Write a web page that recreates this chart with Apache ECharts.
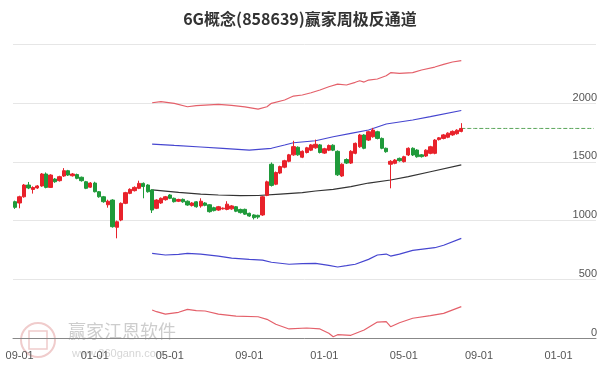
<!DOCTYPE html>
<html><head><meta charset="utf-8">
<script src="https://cdn.jsdelivr.net/npm/echarts@6/dist/echarts.min.js"></script>
<style>html,body{margin:0;padding:0;background:#fff}#c{width:600px;height:371px}</style>
</head><body><div id="c"></div>
<script>
const weeks = [
'2021-08-23','2021-08-30','2021-09-06','2021-09-13','2021-09-20','2021-09-27','2021-10-04','2021-10-11','2021-10-18','2021-10-25',
'2021-11-01','2021-11-08','2021-11-15','2021-11-22','2021-11-29','2021-12-06','2021-12-13','2021-12-20','2021-12-27','2022-01-03',
'2022-01-10','2022-01-17','2022-01-24','2022-01-31','2022-02-07','2022-02-14','2022-02-21','2022-02-28','2022-03-07','2022-03-14',
'2022-03-21','2022-03-28','2022-04-04','2022-04-11','2022-04-18','2022-04-25','2022-05-02','2022-05-09','2022-05-16','2022-05-23',
'2022-05-30','2022-06-06','2022-06-13','2022-06-20','2022-06-27','2022-07-04','2022-07-11','2022-07-18','2022-07-25','2022-08-01',
'2022-08-08','2022-08-15','2022-08-22','2022-08-29','2022-09-05','2022-09-12','2022-09-19','2022-09-26','2022-10-03','2022-10-10',
'2022-10-17','2022-10-24','2022-10-31','2022-11-07','2022-11-14','2022-11-21','2022-11-28','2022-12-05','2022-12-12','2022-12-19',
'2022-12-26','2023-01-02','2023-01-09','2023-01-16','2023-01-23','2023-01-30','2023-02-06','2023-02-13','2023-02-20','2023-02-27',
'2023-03-06','2023-03-13','2023-03-20','2023-03-27','2023-04-03','2023-04-10','2023-04-17','2023-04-24','2023-05-01','2023-05-08',
'2023-05-15','2023-05-22','2023-05-29','2023-06-05','2023-06-12','2023-06-19','2023-06-26','2023-07-03','2023-07-10','2023-07-17',
'2023-07-24','2023-07-31','2023-08-07','2023-08-14','2023-08-21','2023-08-28','2023-09-04','2023-09-11','2023-09-18','2023-09-25',
'2023-10-02','2023-10-09','2023-10-16','2023-10-23','2023-10-30','2023-11-06','2023-11-13','2023-11-20','2023-11-27','2023-12-04',
'2023-12-11','2023-12-18','2023-12-25','2024-01-01','2024-01-08','2024-01-15','2024-01-22','2024-01-29','2024-02-05','2024-02-12',
'2024-02-19','2024-02-26'];

const tickWeeks = ['2021-08-30','2021-12-27','2022-04-25','2022-08-29','2022-12-26','2023-05-01','2023-08-28','2024-01-01'];
const tickLabels = ['09-01','01-01','05-01','09-01','01-01','05-01','09-01','01-01'];
const yTicks = [0, 500, 1000, 1500, 2000];

const openVals = [
1161,1150,1203,1303,1265,1278,1295,1397,1283,1354,
1340,1380,1425,1382,1392,1369,1331,1285,1320,1246,
1203,1135,1175,943,1005,1147,1232,1255,1275,1317,
1303,1261,1105,1150,1178,1218,1190,1165,1181,1165,
1128,1160,1125,1150,1135,1110,1090,1100,1095,1100,
1118,1095,1096,1062,1048,1045,1048,1215,1480,1310,
1405,1455,1505,1560,1625,1540,1580,1600,1620,1645,
1575,1600,1642,1590,1380,1520,1490,1573,1629,1729,
1686,1714,1757,1700,1616,1480,1488,1530,1502,1559,
1616,1601,1560,1550,1573,1573,1690,1700,1710,1730,
1740,1760];
const closeVals = [
1113,1203,1303,1278,1282,1295,1397,1283,1388,1331,
1374,1425,1388,1397,1360,1340,1275,1320,1246,1203,
1161,1165,948,990,1147,1238,1266,1283,1317,1290,
1246,1090,1175,1190,1203,1190,1161,1180,1160,1133,
1150,1118,1165,1130,1076,1085,1118,1106,1140,1125,
1080,1068,1055,1039,1025,1030,1203,1330,1300,1410,
1460,1510,1560,1630,1560,1590,1620,1645,1650,1580,
1612,1640,1600,1390,1480,1490,1590,1658,1729,1616,
1757,1771,1700,1616,1587,1505,1516,1510,1544,1616,
1559,1544,1545,1600,1629,1686,1705,1730,1745,1760,
1770,1785];
const lowVals = [
1100,1105,1195,1268,1230,1270,1288,1275,1278,1322,
1332,1372,1380,1375,1352,1332,1268,1278,1240,1195,
1152,1110,940,849,995,1140,1225,1248,1268,1190,
1238,1065,1098,1142,1170,1183,1154,1158,1152,1126,
1120,1110,1110,1122,1068,1078,1083,1094,1088,1092,
1072,1060,1048,1032,1010,1015,1040,1208,1290,1302,
1396,1446,1497,1552,1552,1532,1572,1592,1612,1572,
1568,1592,1592,1380,1372,1482,1482,1565,1620,1608,
1678,1706,1692,1608,1578,1275,1480,1502,1495,1550,
1550,1536,1537,1542,1565,1565,1682,1692,1702,1722,
1732,1752];
const highVals = [
1170,1212,1312,1329,1292,1303,1405,1410,1395,1362,
1382,1447,1432,1405,1400,1375,1338,1328,1331,1252,
1210,1178,1182,1000,1155,1245,1275,1292,1340,1325,
1310,1268,1182,1197,1210,1225,1196,1186,1188,1172,
1157,1166,1190,1157,1140,1118,1125,1112,1165,1132,
1124,1102,1102,1068,1054,1050,1210,1340,1495,1418,
1468,1518,1568,1680,1632,1598,1628,1652,1690,1652,
1620,1648,1650,1598,1488,1530,1600,1665,1738,1736,
1765,1790,1765,1708,1622,1515,1524,1537,1552,1624,
1624,1608,1567,1607,1637,1694,1712,1738,1752,1768,
1778,1830];

// channel lines: [week index, value]
const upperOuter = [[31,2004],[33,2013],[36,1999],[39,1970],[41,1979],[46,1990],[49,1982],[52,1968],[55,1950],[57,1970],[58,1999],[61,2027],[63,2061],[65,2070],[67,2089],[69,2112],[71,2140],[73,2163],[75,2155],[77,2178],[78,2191],[79,2180],[80,2197],[82,2206],[84,2234],[85,2260],[87,2254],[90,2260],[92,2283],[95,2308],[97,2331],[99,2351],[101,2362]];
const upperInner = [[31,1652],[36,1640],[42,1627],[47,1615],[53,1601],[58,1616],[61,1644],[63,1663],[68,1680],[72,1714],[76,1743],[80,1772],[84,1823],[90,1857],[94,1885],[101,1938]];
const middleLine = [[31,1261],[37,1241],[42,1226],[46,1218],[51,1212],[55,1214],[60,1226],[65,1238],[68,1252],[72,1266],[76,1289],[80,1320],[85,1346],[89,1374],[94,1416],[101,1474]];
const lowerInner = [[31,721],[34,707],[37,713],[39,721],[42,715],[46,698],[49,681],[53,670],[56,664],[58,645],[62,628],[65,633],[68,636],[71,619],[73,605],[75,616],[77,628],[80,670],[82,707],[84,715],[85,698],[87,715],[90,747],[95,769],[97,790],[101,849]];
const lowerOuter = [[31,239],[32,224],[34,204],[37,219],[39,244],[41,233],[43,230],[46,204],[50,187],[55,181],[57,159],[59,117],[62,77],[66,85],[69,77],[71,40],[72,11],[73,28],[76,23],[79,68],[82,136],[84,139],[85,96],[87,130],[90,168],[94,190],[97,210],[101,267]];

const candleData = openVals.map((o, i) => [o, closeVals[i], lowVals[i], highVals[i]]);
const lastIdx = closeVals.length - 1;
const lastClose = closeVals[lastIdx];
const lastLine = weeks.map((w, i) => i >= lastIdx ? lastClose : '-');
const toPts = arr => arr.map(p => [weeks[p[0]], p[1]]);

const isTick = (idx, val) => tickWeeks.indexOf(val) >= 0;

const chart = echarts.init(document.getElementById('c'), null, {renderer: 'canvas'});
const lineCommon = {type: 'line', symbol: 'none', silent: true, z: 3};
chart.setOption({
  animation: false,
  backgroundColor: '#fff',
  title: {
    text: '6G概念(858639)赢家周极反通道', left: 'center', top: 6,
    textStyle: {fontFamily: '"Noto Sans CJK SC", sans-serif', fontWeight: 'bold', fontSize: 16, color: '#333'}
  },
  grid: {left: 13, right: 3, top: 44.5, bottom: 33},
  xAxis: {
    type: 'category', data: weeks, boundaryGap: true,
    axisLine: {lineStyle: {color: '#888', width: 1}},
    axisTick: {alignWithLabel: true, interval: isTick, length: 6, lineStyle: {color: '#888'}},
    axisLabel: {interval: isTick, margin: 12, fontSize: 11, color: '#555', fontFamily: 'Liberation Sans, Arial, sans-serif',
      formatter: v => tickLabels[tickWeeks.indexOf(v)]},
    splitLine: {show: false}
  },
  yAxis: {
    type: 'value', position: 'right', min: 0, max: 2500, interval: 500,
    axisLine: {show: false}, axisTick: {show: false},
    axisLabel: {inside: true, margin: -1, verticalAlign: 'bottom', fontSize: 11, color: '#555',
      fontFamily: 'Liberation Sans, Arial, sans-serif',
      formatter: v => yTicks.indexOf(v) >= 0 ? String(v) : ''},
    splitLine: {lineStyle: {color: '#e6e6e6', width: 1}}
  },
  series: [
    {type: 'candlestick', data: candleData, barWidth: 3.8, z: 4,
      itemStyle: {color: '#e8222b', color0: '#1f9a3a', borderColor: '#e8222b', borderColor0: '#1f9a3a', borderWidth: 1}},
    Object.assign({}, lineCommon, {data: toPts(upperOuter), lineStyle: {color: '#e4606a', width: 1.2}}),
    Object.assign({}, lineCommon, {data: toPts(upperInner), lineStyle: {color: '#4646d0', width: 1.2}}),
    Object.assign({}, lineCommon, {data: toPts(middleLine), lineStyle: {color: '#333', width: 1.2}}),
    Object.assign({}, lineCommon, {data: toPts(lowerInner), lineStyle: {color: '#4646d0', width: 1.2}}),
    Object.assign({}, lineCommon, {data: toPts(lowerOuter), lineStyle: {color: '#e4606a', width: 1.2}}),
    Object.assign({}, lineCommon, {data: lastLine, lineStyle: {color: '#5aa55a', width: 1, type: [4, 2]}})
  ],
  graphic: [
    {type: 'circle', silent: true, z: 0, shape: {cx: 38, cy: 340, r: 17}, style: {fill: 'none', stroke: '#f0cccc', lineWidth: 2}},
    {type: 'rect', silent: true, z: 0, shape: {x: 29, y: 331, width: 18, height: 18}, style: {fill: 'none', stroke: '#f0cccc', lineWidth: 1.5}},
    {type: 'text', silent: true, z: 0, style: {text: '赢家江恩软件', x: 68, y: 331, fill: '#cdcdcd', font: '18px "Noto Sans CJK SC"', verticalAlign: 'middle'}},
    {type: 'text', silent: true, z: 0, style: {text: 'www.360gann.com', x: 72, y: 354, fill: '#d6d6d6', font: '11px "Liberation Sans"', verticalAlign: 'middle'}}
  ]
});
</script>
</body></html>
